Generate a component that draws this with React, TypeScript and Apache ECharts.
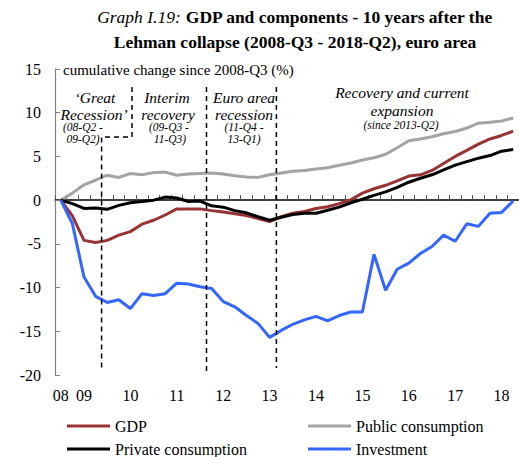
import React, { useEffect, useRef } from "react";
import * as echarts from "echarts";

const quarters = [
  "2008Q3", "2008Q4", "2009Q1", "2009Q2", "2009Q3", "2009Q4", "2010Q1", "2010Q2", "2010Q3", "2010Q4",
  "2011Q1", "2011Q2", "2011Q3", "2011Q4", "2012Q1", "2012Q2", "2012Q3", "2012Q4", "2013Q1", "2013Q2",
  "2013Q3", "2013Q4", "2014Q1", "2014Q2", "2014Q3", "2014Q4", "2015Q1", "2015Q2", "2015Q3", "2015Q4",
  "2016Q1", "2016Q2", "2016Q3", "2016Q4", "2017Q1", "2017Q2", "2017Q3", "2017Q4", "2018Q1", "2018Q2",
];

const xTickLabels: [string, string][] = [
  ["2008Q3", "08"], ["2009Q1", "09"], ["2010Q1", "10"], ["2011Q1", "11"], ["2012Q1", "12"],
  ["2013Q1", "13"], ["2014Q1", "14"], ["2015Q1", "15"], ["2016Q1", "16"], ["2017Q1", "17"], ["2018Q1", "18"],
];

const gdp = [
  0, -1.8, -4.6, -4.85, -4.6, -4.0, -3.6, -2.75, -2.3, -1.7,
  -1.0, -1.0, -1.0, -1.2, -1.35, -1.55, -1.75, -2.1, -2.45, -1.9,
  -1.5, -1.3, -0.95, -0.75, -0.4, 0.05, 0.8, 1.3, 1.7, 2.2,
  2.75, 2.9, 3.4, 4.2, 5.0, 5.7, 6.4, 7.0, 7.4, 7.9,
];

const publicConsumption = [
  0, 0.8, 1.75, 2.3, 2.85, 2.6, 3.05, 2.9, 3.15, 3.2,
  2.85, 3.0, 3.05, 3.1, 3.0, 2.8, 2.65, 2.6, 2.9, 3.1,
  3.3, 3.4, 3.55, 3.7, 4.0, 4.25, 4.6, 4.85, 5.25, 6.0,
  6.8, 7.0, 7.25, 7.6, 7.85, 8.25, 8.8, 8.9, 9.05, 9.4,
];

const privateConsumption = [
  0, -0.4, -0.95, -0.9, -1.05, -0.6, -0.3, -0.15, 0, 0.35,
  0.25, -0.15, -0.1, -0.65, -0.8, -1.2, -1.45, -1.9, -2.3, -1.95,
  -1.65, -1.5, -1.5, -1.15, -0.8, -0.3, 0.1, 0.55, 0.95, 1.45,
  2.05, 2.5, 2.9, 3.45, 4.0, 4.4, 4.8, 5.1, 5.6, 5.8,
];

const investment = [
  0, -2.7, -8.8, -11.0, -11.7, -11.4, -12.4, -10.7, -10.9, -10.7,
  -9.5, -9.6, -9.9, -10.1, -11.6, -12.2, -13.2, -14.1, -15.7, -14.9,
  -14.2, -13.7, -13.3, -13.8, -13.2, -12.8, -12.8, -6.2, -10.3, -7.9,
  -7.2, -6.1, -5.3, -4.0, -4.7, -2.7, -3.0, -1.5, -1.4, -0.1,
];

const SERIF = "'Liberation Serif', 'Times New Roman', serif";

export default function App() {
  const ref = useRef<HTMLDivElement>(null);

  useEffect(() => {
    document.body.style.margin = "0";
    const chart = echarts.init(ref.current!, null, { renderer: "svg" });
    const labelMap = new Map(xTickLabels);

    const lineSeries = (name: string, data: number[], color: string, z: number) => ({
      name,
      type: "line",
      data,
      xAxisIndex: 0,
      yAxisIndex: 0,
      showSymbol: false,
      symbol: "none",
      z,
      lineStyle: { color, width: 3 },
      itemStyle: { color },
    });

    const legendBase = {
      orient: "horizontal",
      padding: 0,
      icon: "rect",
      itemWidth: 43,
      itemHeight: 3,
      itemGap: 5,
      textStyle: { fontFamily: SERIF, fontSize: 16, color: "#000", padding: [0, 0, 0, 0] },
      selectedMode: false,
    };

    const txt = (text: string, x: number, y: number, size: number, italic = true, align = "center") => ({
      type: "text",
      z: 100,
      style: {
        text,
        x,
        y,
        fill: "#000",
        fontFamily: SERIF,
        fontSize: size,
        fontStyle: italic ? "italic" : "normal",
        textAlign: align,
        align,
        textVerticalAlign: "middle",
        verticalAlign: "middle",
      },
    });

    const dash = { stroke: "#000", lineWidth: 1.5, lineDash: [5, 4], fill: null };

    const option: any = {
      animation: false,
      grid: { left: 55, right: -2, top: 69, bottom: 82, containLabel: false },
      xAxis: [
        {
          type: "category",
          data: quarters,
          position: "bottom",
          boundaryGap: true,
          axisLine: { show: false, onZero: false },
          axisTick: { show: false },
          splitLine: { show: false },
          axisLabel: {
            interval: (_i: number, v: string) => labelMap.has(v),
            formatter: (v: string) => labelMap.get(v) ?? "",
            fontFamily: SERIF,
            fontSize: 16,
            color: "#000",
            margin: 12,
          },
        },
        {
          type: "category",
          data: quarters,
          position: "top",
          boundaryGap: true,
          axisLine: { show: true, onZero: true, lineStyle: { color: "#000", width: 1.5 } },
          axisTick: { show: true, inside: false, length: 5, interval: 0, lineStyle: { color: "#555", width: 1 } },
          axisLabel: { show: false },
          splitLine: { show: false },
        },
      ],
      yAxis: {
        type: "value",
        min: -20,
        max: 15,
        interval: 5,
        axisLine: { show: true, lineStyle: { color: "#808080", width: 1.2 } },
        axisTick: { show: true, inside: true, length: 5, lineStyle: { color: "#808080" } },
        splitLine: { show: false },
        axisLabel: { fontFamily: SERIF, fontSize: 16, color: "#000", margin: 14 },
      },
      legend: [
        { ...legendBase, data: ["GDP"], left: 67, top: 418 },
        { ...legendBase, data: ["Public consumption"], left: 308, top: 418 },
        { ...legendBase, data: ["Private consumption"], left: 67, top: 441 },
        { ...legendBase, data: ["Investment"], left: 308, top: 441 },
      ],
      series: [
        lineSeries("Public consumption", publicConsumption, "#A3A3A3", 2),
        lineSeries("GDP", gdp, "#993333", 3),
        lineSeries("Private consumption", privateConsumption, "#000000", 4),
        lineSeries("Investment", investment, "#3366FF", 5),
      ],
      graphic: [
        {
          type: "text",
          z: 100,
          style: {
            text: "{i|Graph I.19:} {b|GDP and components - 10 years after the}",
            x: 295,
            y: 17,
            textAlign: "center",
            align: "center",
            textVerticalAlign: "middle",
            verticalAlign: "middle",
            fontFamily: SERIF,
            fontSize: 17.5,
            fill: "#000",
            rich: {
              i: { fontFamily: SERIF, fontSize: 17.5, fontStyle: "italic", fill: "#000" },
              b: { fontFamily: SERIF, fontSize: 17.5, fontWeight: "bold", fill: "#000" },
            },
          },
        },
        {
          type: "text",
          z: 100,
          style: {
            text: "Lehman collapse (2008-Q3 - 2018-Q2), euro area",
            x: 295,
            y: 42,
            textAlign: "center",
            align: "center",
            textVerticalAlign: "middle",
            verticalAlign: "middle",
            fontFamily: SERIF,
            fontSize: 17.5,
            fontWeight: "bold",
            fill: "#000",
          },
        },
        txt("cumulative change since 2008-Q3 (%)", 63, 70, 15, false, "left"),
        txt("\u2018Great", 95, 97, 15.5),
        txt("Recession\u2019", 94, 114, 15.5),
        txt("(08-Q2 -", 83, 127, 11.5),
        txt("09-Q2)", 83, 139, 11.5),
        txt("Interim", 167, 97, 15.5),
        txt("recovery", 168, 114, 15.5),
        txt("(09-Q3 -", 169, 127, 11.5),
        txt("11-Q3)", 170, 139, 11.5),
        txt("Euro area", 244, 97, 15.5),
        txt("recession", 244, 114, 15.5),
        txt("(11-Q4 -", 244, 127, 11.5),
        txt("13-Q1)", 244, 139, 11.5),
        txt("Recovery and current", 402, 92, 15.5),
        txt("expansion", 402, 110, 15.5),
        txt("(since 2013-Q2)", 401, 125, 11.5),
        {
          type: "polyline",
          z: 90,
          shape: { points: [[132, 87], [132, 137], [101.6, 137], [101.6, 368]] },
          style: dash,
        },
        { type: "line", z: 90, shape: { x1: 206.5, y1: 87, x2: 206.5, y2: 372 }, style: dash },
        { type: "line", z: 90, shape: { x1: 276.4, y1: 87, x2: 276.4, y2: 368 }, style: dash },
      ],
    };

    chart.setOption(option);
    return () => chart.dispose();
  }, []);

  return <div ref={ref} style={{ width: 519, height: 457 }} />;
}
